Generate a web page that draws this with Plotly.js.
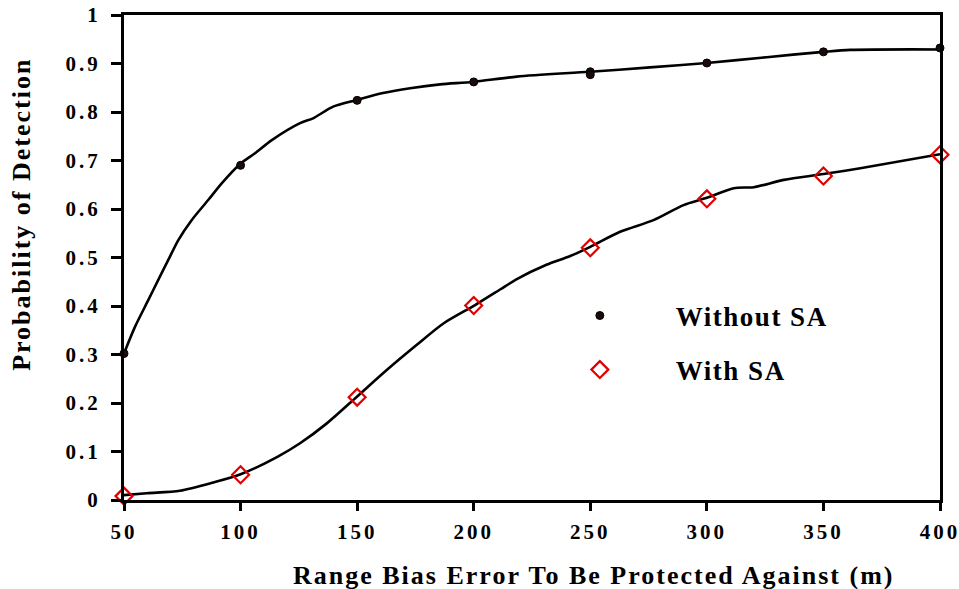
<!DOCTYPE html>
<html>
<head>
<meta charset="utf-8">
<script src="https://cdn.plot.ly/plotly-3.0.1.min.js"></script>
<style>
html,body{margin:0;padding:0;background:#fff;}
#chart{width:959px;height:589px;}
#chart .xtick text, #chart .ytick text { letter-spacing: 3px; }
#chart .annotation-text { letter-spacing: 2px; }
#chart .legendtext { letter-spacing: 1.5px; }
#chart .legend .scrollbox, #chart .legend .groups, #chart .legend .traces { clip-path: none !important; }
</style>
</head>
<body>
<div id="chart"></div>
<script>
// Marker data
const xWithout = [50, 100, 150, 200, 250, 250, 300, 350, 400];
const yWithout = [0.302, 0.69, 0.824, 0.862, 0.883, 0.877, 0.901, 0.924, 0.932];
const xWith = [50, 100, 150, 200, 250, 300, 350, 400];
const yWith = [0.008, 0.052, 0.212, 0.401, 0.52, 0.621, 0.668, 0.712];

// Fitted curves
const xCurveWithout = [50, 54.7, 60.4, 64.7, 69, 73.3, 79, 86.2, 91.9, 99.8, 106.2, 113.4, 125.5, 131.1, 139.7, 150, 161.1, 172.7, 185.6, 199.7, 218.5, 249.9, 275.6, 300, 325.7, 350, 361.5, 400];
const yCurveWithout = [0.302, 0.357, 0.412, 0.454, 0.495, 0.536, 0.577, 0.619, 0.653, 0.693, 0.715, 0.742, 0.777, 0.787, 0.811, 0.825, 0.839, 0.849, 0.857, 0.862, 0.873, 0.883, 0.892, 0.901, 0.913, 0.924, 0.928, 0.929];
const xCurveWith = [50, 59.7, 74, 88.3, 100, 115.8, 125.5, 137, 149.9, 162.7, 175.6, 187, 200.6, 211.3, 218.3, 231.2, 241.4, 250, 262.8, 277.1, 290, 300, 311.5, 320.1, 333, 350, 365.8, 400];
const yCurveWith = [0.01, 0.014, 0.019, 0.036, 0.053, 0.089, 0.117, 0.158, 0.213, 0.268, 0.32, 0.364, 0.402, 0.434, 0.455, 0.485, 0.503, 0.522, 0.553, 0.577, 0.608, 0.623, 0.643, 0.645, 0.66, 0.672, 0.684, 0.713];

const xTicks = [50, 100, 150, 200, 250, 300, 350, 400];
const yTicks = [0, 0.1, 0.2, 0.3, 0.4, 0.5, 0.6, 0.7, 0.8, 0.9, 1];
const yTickText = ['0', '0.1', '0.2', '0.3', '0.4', '0.5', '0.6', '0.7', '0.8', '0.9', '1'];

const FONT = '"Liberation Serif", "Times New Roman", serif';

const traces = [
  {x: xCurveWithout, y: yCurveWithout, mode: 'lines', line: {color: '#000', width: 2.6, shape: 'spline', smoothing: 0.8}, showlegend: false, hoverinfo: 'skip'},
  {x: xCurveWith, y: yCurveWith, mode: 'lines', line: {color: '#000', width: 2.6, shape: 'spline', smoothing: 0.8}, showlegend: false, hoverinfo: 'skip'},
  {x: xWithout, y: yWithout, mode: 'markers', name: 'Without SA', legendgroup: 'a',
   marker: {symbol: 'circle', size: 8, color: '#1a0a0a', line: {color: '#000', width: 1}}, cliponaxis: false},
  {x: xWith, y: yWith, mode: 'markers', name: 'With SA', legendgroup: 'b',
   marker: {symbol: 'diamond-open', size: 13, color: '#e00000', line: {color: '#e00000', width: 2.2}}, cliponaxis: false}
];

const layout = {
  width: 959, height: 589,
  margin: {l: 124, r: 19, t: 15, b: 89},
  paper_bgcolor: '#fff', plot_bgcolor: '#fff',
  font: {family: FONT, color: '#000', size: 21, weight: 'bold'},
  xaxis: {
    range: [50, 400], tickvals: xTicks, ticks: 'outside', ticklen: 8, tickwidth: 3, tickcolor: '#000',
    showline: true, linewidth: 3, linecolor: '#000', mirror: true, showgrid: false, zeroline: false,
    tickfont: {family: FONT, size: 21, weight: 'bold'}, ticklabelstandoff: 3
  },
  yaxis: {
    range: [0, 1], tickvals: yTicks, ticktext: yTickText, ticks: 'outside', ticklen: 10, tickwidth: 3, tickcolor: '#000',
    showline: true, linewidth: 3, linecolor: '#000', mirror: true, showgrid: false, zeroline: false,
    tickfont: {family: FONT, size: 21, weight: 'bold'}, ticklabelstandoff: 6
  },
  showlegend: true,
  legend: {x: 0.49, y: 0.43, xanchor: 'left', yanchor: 'top', bgcolor: 'rgba(0,0,0,0)',
    font: {family: FONT, size: 27, weight: 'bold'}, itemwidth: 142, tracegroupgap: 16, traceorder: 'grouped'},
  annotations: [
    {text: 'Range Bias Error To Be Protected Against (m)', xref: 'paper', yref: 'paper', x: 0.575, y: -0.155,
     xanchor: 'center', yanchor: 'middle', showarrow: false, font: {family: FONT, size: 26, weight: 'bold'}},
    {text: 'Probability of Detection', xref: 'paper', yref: 'paper', x: -0.125, y: 0.59, textangle: -90,
     xanchor: 'center', yanchor: 'middle', showarrow: false, font: {family: FONT, size: 26, weight: 'bold'}}
  ]
};

Plotly.newPlot('chart', traces, layout, {displayModeBar: false, staticPlot: true});
</script>
</body>
</html>
